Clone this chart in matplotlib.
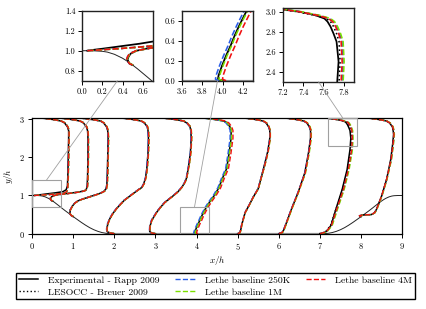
import matplotlib
matplotlib.use("Agg")
import matplotlib.pyplot as plt
from matplotlib.patches import Rectangle, ConnectionPatch

plt.rcParams['font.family'] = 'cmr10'
plt.rcParams['mathtext.fontset'] = 'cm'
plt.rcParams['axes.formatter.use_mathtext'] = True

# profile stations (x/h) and velocity profiles (x = station + u/u_b)
stations = [0.05, 0.5, 1, 2, 3, 4, 5, 6, 7, 8]

profile_y = [
    [1.0, 1.01, 1.02, 1.035, 1.05, 1.07, 1.1, 1.15, 1.25, 1.5, 2.0, 2.5, 2.7, 2.8, 2.9, 2.95, 2.98, 3.0, 3.02, 3.035],
    [0.857, 0.87, 0.91, 0.94, 0.97, 1.0, 1.03, 1.06, 1.09, 1.12, 1.16, 1.25, 1.5, 2.0, 2.5, 2.7, 2.8, 2.9, 2.95, 2.98, 3.0, 3.02, 3.035],
    [0.448, 0.48, 0.53, 0.62, 0.72, 0.80, 0.86, 0.91, 0.98, 1.05, 1.11, 1.18, 1.3, 1.6, 2.0, 2.5, 2.7, 2.8, 2.9, 2.95, 2.98, 3.0, 3.02, 3.035],
    [0.0, 0.02, 0.05, 0.12, 0.25, 0.39, 0.52, 0.65, 0.77, 0.88, 1.05, 1.16, 1.21, 1.32, 1.47, 1.7, 2.12, 2.5, 2.7, 2.8, 2.9, 2.95, 2.98, 3.0, 3.02, 3.035],
    [0.0, 0.02, 0.06, 0.2, 0.35, 0.56, 0.70, 0.82, 0.99, 1.10, 1.21, 1.35, 1.47, 1.8, 2.12, 2.5, 2.7, 2.8, 2.9, 2.95, 2.98, 3.0, 3.02, 3.035],
    [0.0, 0.015, 0.05, 0.15, 0.25, 0.35, 0.45, 0.55, 0.62, 0.7, 0.85, 1.0, 1.2, 1.45, 1.7, 2.1, 2.5, 2.7, 2.8, 2.9, 2.95, 2.98, 3.0, 3.02, 3.035],
    [0.0, 0.02, 0.08, 0.24, 0.55, 0.75, 0.96, 1.18, 1.5, 1.8, 2.15, 2.5, 2.7, 2.8, 2.9, 2.95, 2.98, 3.0, 3.02, 3.035],
    [0.0, 0.03, 0.1, 0.3, 0.65, 1.08, 1.59, 2.11, 2.5, 2.7, 2.8, 2.9, 2.95, 2.98, 3.0, 3.02, 3.035],
    [0.0, 0.03, 0.06, 0.22, 0.65, 1.16, 1.68, 2.2, 2.5, 2.7, 2.78, 2.85, 2.9, 2.93, 2.96, 2.98, 3.0, 3.02, 3.035],
    [0.448, 0.47, 0.49, 0.5, 0.55, 0.65, 0.99, 1.42, 1.94, 2.37, 2.6, 2.7, 2.8, 2.9, 2.95, 2.98, 3.0, 3.02, 3.035],
]

# simulation profiles (LES)
profile_u_sim = [
    [0, 0.15, 0.3, 0.5, 0.67, 0.75, 0.79, 0.81, 0.82, 0.83, 0.84, 0.85, 0.85, 0.82, 0.75, 0.66, 0.51, 0.38, 0.23, 0],
    [0, -0.03, -0.06, -0.05, -0.03, 0.035, 0.2, 0.45, 0.65, 0.78, 0.83, 0.85, 0.86, 0.87, 0.87, 0.86, 0.83, 0.76, 0.67, 0.52, 0.39, 0.23, 0],
    [0, -0.05, -0.08, -0.07, -0.02, 0.04, 0.12, 0.24, 0.45, 0.65, 0.76, 0.81, 0.83, 0.84, 0.85, 0.86, 0.85, 0.82, 0.75, 0.67, 0.51, 0.38, 0.23, 0],
    [0, -0.10, -0.17, -0.18, -0.16, -0.11, -0.04, 0.05, 0.15, 0.25, 0.46, 0.60, 0.67, 0.73, 0.77, 0.80, 0.83, 0.84, 0.83, 0.81, 0.74, 0.66, 0.50, 0.38, 0.23, 0],
    [0, -0.10, -0.14, -0.13, -0.09, 0.03, 0.13, 0.23, 0.43, 0.55, 0.64, 0.72, 0.76, 0.82, 0.86, 0.88, 0.87, 0.85, 0.77, 0.69, 0.53, 0.40, 0.24, 0],
    [0, -0.035, -0.03, 0.005, 0.045, 0.09, 0.13, 0.175, 0.21, 0.25, 0.34, 0.44, 0.55, 0.64, 0.74, 0.80, 0.85, 0.85, 0.82, 0.75, 0.67, 0.51, 0.38, 0.23, 0],
    [0, 0.05, 0.07, 0.10, 0.18, 0.28, 0.38, 0.50, 0.58, 0.66, 0.74, 0.79, 0.79, 0.76, 0.70, 0.62, 0.48, 0.36, 0.21, 0],
    [0, 0.08, 0.12, 0.19, 0.31, 0.47, 0.64, 0.73, 0.78, 0.78, 0.75, 0.69, 0.61, 0.47, 0.35, 0.21, 0],
    [0, 0.1, 0.16, 0.28, 0.41, 0.57, 0.69, 0.77, 0.785, 0.775, 0.75, 0.72, 0.69, 0.65, 0.55, 0.45, 0.35, 0.2, 0],
    [0, -0.04, 0.05, 0.25, 0.33, 0.38, 0.5, 0.62, 0.73, 0.78, 0.8, 0.79, 0.77, 0.70, 0.62, 0.48, 0.36, 0.22, 0],
]

# experimental profiles (Rapp 2009)
profile_u_exp = [
    [0, 0.07, 0.15, 0.26, 0.37, 0.52, 0.7, 0.78, 0.81, 0.82, 0.83, 0.84, 0.84, 0.81, 0.74, 0.65, 0.5, 0.38, 0.23, 0],
    [0, -0.03, -0.05, -0.04, -0.02, 0.04, 0.18, 0.42, 0.63, 0.77, 0.82, 0.84, 0.85, 0.86, 0.86, 0.85, 0.82, 0.75, 0.66, 0.51, 0.38, 0.23, 0],
    [0, -0.05, -0.08, -0.07, -0.02, 0.04, 0.12, 0.24, 0.44, 0.64, 0.75, 0.80, 0.82, 0.83, 0.84, 0.85, 0.84, 0.81, 0.74, 0.66, 0.50, 0.38, 0.23, 0],
    [0, -0.10, -0.17, -0.18, -0.16, -0.11, -0.04, 0.05, 0.15, 0.25, 0.46, 0.60, 0.67, 0.72, 0.76, 0.79, 0.82, 0.83, 0.82, 0.80, 0.73, 0.65, 0.50, 0.38, 0.23, 0],
    [0, -0.10, -0.14, -0.13, -0.09, 0.03, 0.13, 0.23, 0.43, 0.55, 0.64, 0.72, 0.76, 0.81, 0.85, 0.87, 0.86, 0.84, 0.76, 0.68, 0.52, 0.40, 0.24, 0],
    [0, -0.045, -0.04, -0.005, 0.035, 0.08, 0.12, 0.165, 0.2, 0.24, 0.33, 0.43, 0.54, 0.63, 0.73, 0.79, 0.84, 0.84, 0.81, 0.74, 0.66, 0.5, 0.38, 0.23, 0],
    [0, 0.05, 0.07, 0.10, 0.18, 0.28, 0.38, 0.50, 0.58, 0.65, 0.73, 0.78, 0.78, 0.75, 0.69, 0.61, 0.48, 0.36, 0.21, 0],
    [0, 0.08, 0.12, 0.19, 0.31, 0.47, 0.63, 0.72, 0.77, 0.77, 0.74, 0.68, 0.60, 0.47, 0.35, 0.21, 0],
    [0, 0.1, 0.16, 0.27, 0.39, 0.54, 0.66, 0.73, 0.75, 0.73, 0.70, 0.67, 0.64, 0.61, 0.53, 0.45, 0.35, 0.2, 0],
    [0, -0.04, 0.05, 0.25, 0.33, 0.38, 0.5, 0.62, 0.72, 0.77, 0.79, 0.78, 0.76, 0.69, 0.61, 0.48, 0.36, 0.22, 0],
]

# per-station offsets of the other data sets relative to the LES profile
shift_lesocc = [0, 0, 0, 0, 0, -0.005, 0, 0, -0.02, 0]
shift_250k = [0, 0, -0.005, -0.01, -0.01, -0.035, -0.005, -0.005, 0.01, 0.005]
shift_1m = [0.005, 0.005, 0.005, 0.005, 0.005, 0, 0.005, 0.01, 0.02, 0.01]
shift_4m = [0, 0, 0, 0, 0, 0.035, 0, 0, 0, 0]

# hill geometry
hill_l_x = [0, 0.1, 0.2, 0.25, 0.32, 0.4, 0.45, 0.5, 0.55, 0.6, 0.65, 0.714, 0.8, 0.9, 1.0, 1.071,
            1.2, 1.3, 1.4, 1.5, 1.6, 1.7, 1.8, 1.929]
hill_l_y = [1.0, 1.0, 0.994, 0.986, 0.964, 0.925, 0.893, 0.857, 0.818, 0.776, 0.734, 0.679, 0.607,
            0.527, 0.448, 0.393, 0.295, 0.224, 0.159, 0.105, 0.062, 0.030, 0.010, 0.0]
hill_r_x = [7.071, 7.2, 7.3, 7.4, 7.5, 7.6, 7.7, 7.8, 7.929, 8.0, 8.1, 8.2, 8.286, 8.35, 8.4, 8.45,
            8.5, 8.55, 8.6, 8.68, 8.75, 8.8, 8.9, 9.0]
hill_r_y = [0.0, 0.010, 0.030, 0.062, 0.105, 0.159, 0.224, 0.295, 0.393, 0.448, 0.527, 0.607, 0.679,
            0.734, 0.776, 0.818, 0.857, 0.893, 0.925, 0.964, 0.986, 0.994, 1.0, 1.0]
wall_x = [1.929, 7.071]
wall_y = [0.0, 0.0]

series = [
    ("Experimental - Rapp 2009", "exp", None, "black", "-", 1.1),
    ("LESOCC - Breuer 2009", "sim", shift_lesocc, "black", ":", 1.0),
    ("Lethe baseline 250K", "sim", shift_250k, "#2a5ee8", "--", 1.0),
    ("Lethe baseline 1M", "sim", shift_1m, "#7be000", "--", 1.0),
    ("Lethe baseline 4M", "sim", shift_4m, "#f01010", "--", 1.0),
]

fig = plt.figure(figsize=(4.27, 3.09), dpi=100)
ax = fig.add_axes([0.075, 0.2437, 0.867, 0.3753])
ins1 = fig.add_axes([0.1927, 0.7388, 0.1649, 0.2265])
ins2 = fig.add_axes([0.4269, 0.7388, 0.1649, 0.2265])
ins3 = fig.add_axes([0.6628, 0.7356, 0.1656, 0.2385])


def draw(a, lw_scale):
    a.plot(hill_l_x, hill_l_y, color="#222222", lw=0.7)
    a.plot(hill_r_x, hill_r_y, color="#222222", lw=0.7)
    a.plot(wall_x, wall_y, color="#9a9a9a", lw=1.6, solid_capstyle="butt")
    handles = []
    for label, kind, shift, color, ls, lw in series:
        for i, x0 in enumerate(stations):
            u = profile_u_exp[i] if kind == "exp" else profile_u_sim[i]
            off = 0 if shift is None else shift[i]
            xs = [x0 + v + off for v in u]
            line, = a.plot(xs, profile_y[i], color=color, ls=ls, lw=lw * lw_scale)
        handles.append(line)
    return handles


handles = draw(ax, 1.0)
for a in (ins1, ins2, ins3):
    draw(a, 1.15)

ax.set_xlim(0, 9)
ax.set_ylim(0, 3.035)
ax.set_xticks(range(10))
ax.set_yticks([0, 1, 2, 3])
ax.set_xlabel(r"$x/h$", fontsize=6.5, labelpad=2)
ax.set_ylabel(r"$y/h$", fontsize=6.5, labelpad=3)
ax.tick_params(labelsize=6, length=3, width=0.7, pad=2)
for s in ax.spines.values():
    s.set_linewidth(0.9)

boxes = [(0.0, 0.7, ins1, 0.35, 1.4), (3.6, 0.0, ins2, 3.95, 0.7), (7.2, 2.3, ins3, 7.55, 3.035)]
for bx, by, ins, cx, cy in boxes:
    ax.add_patch(Rectangle((bx, by), 0.7, 0.735 if ins is ins3 else 0.7, fill=False,
                           edgecolor="#a0a0a0", lw=0.8, zorder=5))
    con = ConnectionPatch(xyA=(cx, cy), coordsA=ax.transData, xyB=(cx, by), coordsB=ins.transData,
                          color="#a0a0a0", lw=0.6)
    fig.add_artist(con)

ins1.set_xlim(0, 0.7)
ins1.set_ylim(0.7, 1.4)
ins1.set_xticks([0.0, 0.2, 0.4, 0.6])
ins1.set_yticks([0.8, 1.0, 1.2, 1.4])
ins2.set_xlim(3.6, 4.3)
ins2.set_ylim(0, 0.7)
ins2.set_xticks([3.6, 3.8, 4.0, 4.2])
ins2.set_yticks([0.0, 0.2, 0.4, 0.6])
ins3.set_xlim(7.2, 7.9)
ins3.set_ylim(2.3, 3.035)
ins3.set_xticks([7.2, 7.4, 7.6, 7.8])
ins3.set_yticks([2.4, 2.6, 2.8, 3.0])
for a in (ins1, ins2, ins3):
    a.tick_params(labelsize=6, length=3, width=0.7, pad=2)
    a.xaxis.set_major_formatter(matplotlib.ticker.FormatStrFormatter("%.1f"))
    a.yaxis.set_major_formatter(matplotlib.ticker.FormatStrFormatter("%.1f"))
    for s in a.spines.values():
        s.set_linewidth(1.0)
        s.set_color("#222222")

leg = fig.legend(handles, [s[0] for s in series], loc="lower left",
                 bbox_to_anchor=(0.037, 0.031, 0.935, 0.087), mode="expand", ncol=3,
                 fontsize=7, frameon=True, fancybox=False, edgecolor="black", framealpha=1,
                 borderaxespad=0, handlelength=2.0, handletextpad=1.0, borderpad=0.3,
                 labelspacing=0.3)
leg.get_frame().set_linewidth(1.0)

fig.savefig("out.png", dpi=100)
